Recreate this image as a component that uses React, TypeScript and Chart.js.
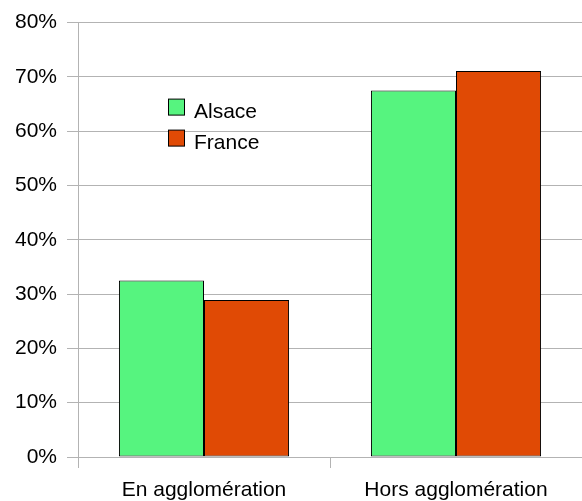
import React, { useEffect, useRef } from "react";
import { Chart, registerables } from "chart.js";

Chart.register(...registerables);

const categories = ["En agglomération", "Hors agglomération"];
const alsaceValues = [32.5, 67.5];
const franceValues = [28.9, 71.1];
const seriesNames = ["Alsace", "France"];
const seriesColors = ["#56f47f", "#e04a05"];
const yTicks = [0, 10, 20, 30, 40, 50, 60, 70, 80];

const FONT = "'Liberation Sans', Arial, sans-serif";
const FONT_SIZE = 21;

const insideLegend = {
  id: "insideLegend",
  afterDraw(chart: any) {
    const { ctx, chartArea } = chart;
    const x0 = chartArea.left + 90;
    const y0 = chartArea.top + 76;
    ctx.save();
    chart.data.datasets.forEach((ds: any, i: number) => {
      const y = y0 + i * 31;
      ctx.fillStyle = ds.backgroundColor;
      ctx.fillRect(x0 + 0.5, y + 0.5, 16, 16);
      ctx.strokeStyle = "#000";
      ctx.lineWidth = 1;
      ctx.strokeRect(x0 + 0.5, y + 0.5, 16, 16);
      ctx.fillStyle = "#000";
      ctx.font = `${FONT_SIZE}px ${FONT}`;
      ctx.textBaseline = "alphabetic";
      ctx.textAlign = "left";
      ctx.fillText(ds.label, x0 + 26, y + 19);
    });
    ctx.restore();
  },
};

export default function App() {
  const ref = useRef<HTMLCanvasElement>(null);
  useEffect(() => {
    if (!ref.current) return;
    const common = {
      borderColor: "#000",
      borderWidth: 1,
      borderSkipped: false,
      categoryPercentage: 0.675,
      barPercentage: 1,
    };
    const chart = new Chart(ref.current, {
      type: "bar",
      data: {
        labels: categories,
        datasets: [
          { label: seriesNames[0], data: alsaceValues, backgroundColor: seriesColors[0], ...common },
          { label: seriesNames[1], data: franceValues, backgroundColor: seriesColors[1], ...common },
        ],
      },
      options: {
        animation: false,
        responsive: false,
        layout: { padding: { top: 21, right: 0, left: 0, bottom: 0 } },
        plugins: { legend: { display: false }, tooltip: { enabled: false } },
        scales: {
          x: {
            offset: true,
            grid: {
              display: true,
              offset: true,
              drawOnChartArea: false,
              drawTicks: true,
              tickLength: 11,
              color: "#b3b3b3",
            },
            border: { display: true, color: "#b3b3b3" },
            ticks: { color: "#000", font: { family: FONT, size: FONT_SIZE }, padding: 10, maxRotation: 0 },
            afterFit: (s: any) => {
              s.height = 44;
            },
          },
          y: {
            min: yTicks[0],
            max: yTicks[yTicks.length - 1],
            afterBuildTicks: (s: any) => {
              s.ticks = yTicks.map((v) => ({ value: v }));
            },
            grid: { color: "#b3b3b3", tickLength: 11 },
            border: { display: true, color: "#b3b3b3" },
            ticks: {
              color: "#000",
              font: { family: FONT, size: FONT_SIZE },
              padding: 10,
              callback: (v: any) => `${v}%`,
            },
            afterFit: (s: any) => {
              s.width = 78;
            },
          },
        },
      },
      plugins: [insideLegend],
    });
    return () => chart.destroy();
  }, []);
  return (
    <div style={{ position: "fixed", left: 0, top: 0, width: 582, height: 501, background: "#fff" }}>
      <canvas ref={ref} width={582} height={501} style={{ display: "block" }} />
    </div>
  );
}
